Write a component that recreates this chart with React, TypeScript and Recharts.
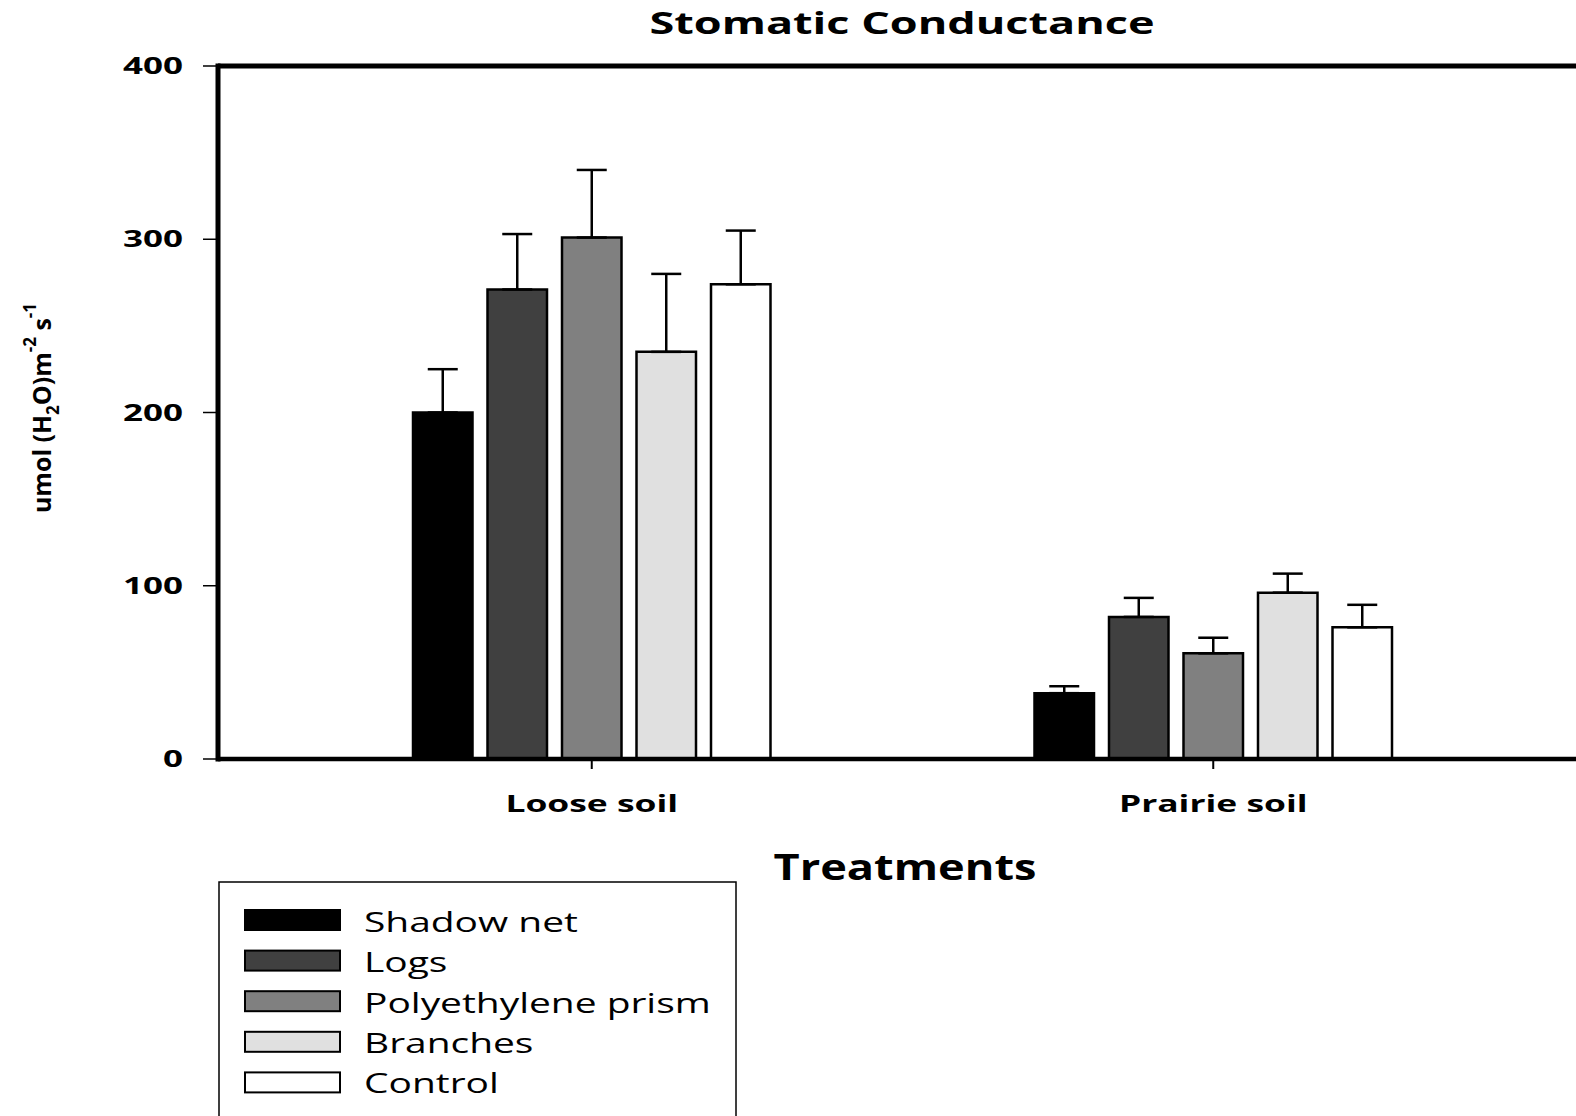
import React from 'react';
import { BarChart, Bar, XAxis, YAxis, ErrorBar, ReferenceLine, Legend } from 'recharts';

const categories = ['Loose soil', 'Prairie soil'];
const seriesNames = ['Shadow net', 'Logs', 'Polyethylene prism', 'Branches', 'Control'];
const shadowNet = [200, 38];
const shadowNetErr = [25, 4];
const logs = [271, 82];
const logsErr = [32, 11];
const polyethylenePrism = [301, 61];
const polyethylenePrismErr = [39, 9];
const branches = [235, 96];
const branchesErr = [45, 11];
const control = [274, 76];
const controlErr = [31, 13];
const yTicks = [0, 100, 200, 300, 400];

const seriesValues = [shadowNet, logs, polyethylenePrism, branches, control];
const seriesErrors = [shadowNetErr, logsErr, polyethylenePrismErr, branchesErr, controlErr];
const fills = ['#000000', '#404040', '#808080', '#e0e0e0', '#ffffff'];

const data = categories.map((c, i) => {
  const row: any = { category: c };
  seriesValues.forEach((vals, s) => {
    row['v' + s] = vals[i];
    row['e' + s] = [0, seriesErrors[s][i]];
  });
  return row;
});

const FONT = "'Open Sans', 'DejaVu Sans', sans-serif";

const YTick = (props: any) => {
  const { x, y, payload } = props;
  return (
    <g transform={`translate(${x},${y + 8})`}>
      <text transform="scale(1.52,1)" textAnchor="end" fontFamily={FONT} fontSize={23} fontWeight="bold" fill="#000">
        {payload.value}
      </text>
    </g>
  );
};

const XTick = (props: any) => {
  const { x, payload } = props;
  return (
    <g transform={`translate(${x},812)`}>
      <text transform="scale(1.54,1)" textAnchor="middle" fontFamily={FONT} fontSize={23} fontWeight="bold" fill="#000">
        {payload.value}
      </text>
    </g>
  );
};

const XLabel = () => (
  <text x={905} y={880} textAnchor="middle" fontFamily={FONT} fontSize={35} fontWeight="bold" fill="#000"
    textLength={263} lengthAdjust="spacingAndGlyphs">
    Treatments
  </text>
);

const YLabel = () => (
  <text transform="translate(51,408) rotate(-90)" textAnchor="middle" fontFamily={FONT} fontSize={25} fontWeight="bold" fill="#000">
    <tspan>umol (H</tspan>
    <tspan fontSize={17} dy={8}>2</tspan>
    <tspan dy={-8}>O)m</tspan>
    <tspan fontSize={17} dy={-15}>-2</tspan>
    <tspan dy={15}> s</tspan>
    <tspan fontSize={17} dy={-15}>-1</tspan>
  </text>
);

const renderLegend = () => (
  <svg width={530} height={240} style={{ display: 'block' }}>
    <rect x={1} y={1} width={517} height={300} fill="none" stroke="#000" strokeWidth={1.5} />
    {seriesNames.map((n, i) => (
      <g key={n}>
        <rect x={27} y={29 + 40.6 * i} width={95} height={20} fill={fills[i]} stroke="#000" strokeWidth={2} />
        <g transform={`translate(146,${50.7 + 40.4 * i})`}>
          <text transform="scale(1.39,1)" fontFamily={FONT} fontSize={28} fill="#000">{n}</text>
        </g>
      </g>
    ))}
  </svg>
);

export default function App() {
  return (
    <div style={{ position: 'absolute', left: 0, top: 0, width: 1576, height: 1116, overflow: 'hidden', background: '#fff' }}>
      <BarChart
        width={1620}
        height={1116}
        data={data}
        margin={{ top: 66, right: 0, bottom: 297, left: 118 }}
        barGap={15}
      >
        <XAxis
          dataKey="category"
          height={60}
          padding={{ left: 63, right: 96 }}
          tickSize={10}
          tickMargin={2}
          axisLine={{ stroke: '#000', strokeWidth: 4.5 }}
          tickLine={{ stroke: '#000', strokeWidth: 2 }}
          tick={<XTick />}
          label={{ content: () => <XLabel /> }}
        />
        <YAxis
          type="number"
          domain={[0, 400]}
          ticks={yTicks}
          interval={0}
          width={100}
          tickSize={15}
          tickMargin={20}
          axisLine={{ stroke: '#000', strokeWidth: 5, strokeLinecap: 'square' }}
          tickLine={{ stroke: '#000', strokeWidth: 1.5 }}
          tick={<YTick />}
          label={{ content: () => <YLabel /> }}
        />
        <ReferenceLine y={400} stroke="#000" strokeWidth={5} />
        {seriesNames.map((n, s) => (
          <Bar
            key={n}
            dataKey={'v' + s}
            name={n}
            fill={fills[s]}
            stroke="#000"
            strokeWidth={2.5}
            barSize={59.5}
            isAnimationActive={false}
          >
            <ErrorBar dataKey={'e' + s} width={15} strokeWidth={2.5} stroke="#000" direction="y" isAnimationActive={false} />
          </Bar>
        ))}
        <Legend
          layout="horizontal"
          verticalAlign="middle"
          align="center"
          content={renderLegend}
          wrapperStyle={{ left: 218, top: 881, width: 530, height: 240 }}
        />
      </BarChart>
      <svg width={1576} height={60} style={{ position: 'absolute', left: 0, top: 0, pointerEvents: 'none' }}>
        <text x={902} y={34} textAnchor="middle" fontFamily={FONT} fontSize={31} fontWeight="bold" fill="#000"
          textLength={505} lengthAdjust="spacingAndGlyphs">
          Stomatic Conductance
        </text>
      </svg>
    </div>
  );
}
